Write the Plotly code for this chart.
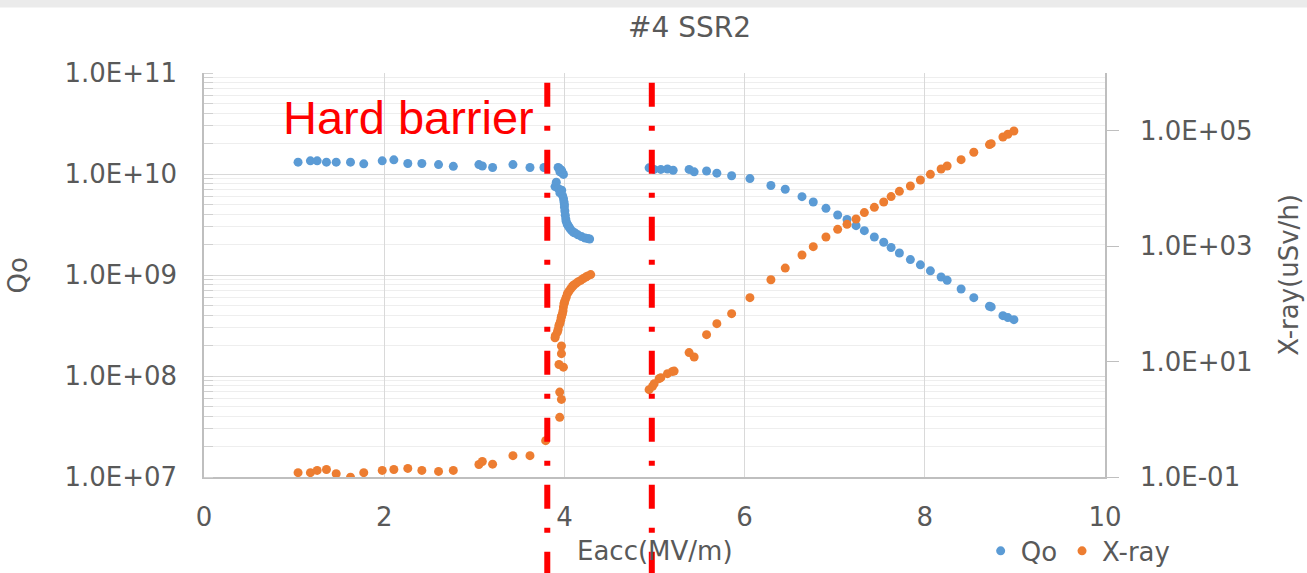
import plotly.graph_objects as go

# ---------------- data ----------------
qo_x = [1.044, 1.181, 1.256, 1.359, 1.467, 1.626, 1.773, 1.978, 2.107, 2.262,
        2.418, 2.603, 2.767, 3.051, 3.089, 3.203, 3.429, 3.618, 3.773,
        3.93, 3.94, 3.96, 3.97, 3.95, 3.98, 3.99, 3.896, 3.91, 3.93, 3.95, 3.97,
        3.98, 3.99, 3.995, 4.0, 4.0, 4.005, 4.01, 4.015, 4.02, 4.03, 4.04, 4.05,
        4.06, 4.08, 4.10, 4.12, 4.15, 4.19, 4.23, 4.26, 4.28,
        4.940, 4.996, 5.070, 5.144, 5.207, 5.384, 5.440, 5.578, 5.692, 5.856,
        6.059, 6.292, 6.451, 6.637, 6.762, 6.903, 7.033, 7.137, 7.237, 7.329,
        7.440, 7.544, 7.626, 7.718, 7.840, 7.951, 8.062, 8.181, 8.248, 8.403,
        8.544, 8.718, 8.737, 8.867, 8.922, 8.989]
qo_y = [1.31e10, 1.35e10, 1.35e10, 1.31e10, 1.31e10, 1.31e10, 1.26e10, 1.35e10, 1.38e10, 1.27e10,
        1.27e10, 1.24e10, 1.19e10, 1.24e10, 1.20e10, 1.16e10, 1.24e10, 1.16e10, 1.16e10,
        1.16e10, 1.14e10, 1.10e10, 1.08e10, 1.05e10, 1.02e10, 9.9e9, 7.5e9, 8.3e9, 7.2e9, 6.5e9, 6.9e9,
        6.1e9, 5.7e9, 5.3e9, 5.0e9, 4.7e9, 4.3e9, 3.9e9, 3.6e9, 3.4e9, 3.2e9, 3.1e9, 3.0e9,
        2.9e9, 2.75e9, 2.65e9, 2.6e9, 2.5e9, 2.4e9, 2.32e9, 2.3e9, 2.27e9,
        1.15e10, 1.11e10, 1.11e10, 1.12e10, 1.09e10, 1.11e10, 1.05e10, 1.07e10, 1.02e10, 9.6e9,
        9.0e9, 7.7e9, 7.06e9, 5.97e9, 5.28e9, 4.57e9, 3.93e9, 3.54e9, 3.08e9, 2.75e9,
        2.38e9, 2.11e9, 1.87e9, 1.65e9, 1.42e9, 1.26e9, 1.10e9, 9.55e8, 8.87e8, 7.27e8,
        5.97e8, 4.90e8, 4.83e8, 3.96e8, 3.79e8, 3.61e8]

xray_x = [1.044, 1.181, 1.256, 1.359, 1.467, 1.626, 1.773, 1.978, 2.107, 2.262,
          2.418, 2.603, 2.767, 3.051, 3.089, 3.203, 3.429, 3.618, 3.792,
          3.948, 3.967, 3.948, 3.989, 3.940, 3.967, 3.967, 3.896, 3.90, 3.922, 3.93,
          3.940, 3.95, 3.959, 3.965, 3.97, 3.978, 3.985, 3.989, 3.995, 4.0, 4.007,
          4.02, 4.033, 4.05, 4.070, 4.09, 4.10, 4.126, 4.15, 4.181, 4.21, 4.237,
          4.26, 4.292,
          4.940, 4.978, 4.996, 5.051, 5.070, 5.144, 5.200, 5.218, 5.384, 5.440,
          5.578, 5.692, 5.856, 6.059, 6.292, 6.451, 6.637, 6.762, 6.903, 7.033,
          7.137, 7.237, 7.329, 7.440, 7.544, 7.626, 7.718, 7.840, 7.951, 8.062,
          8.181, 8.248, 8.403, 8.544, 8.718, 8.737, 8.867, 8.922, 8.989]
xray_y = [0.119, 0.119, 0.130, 0.135, 0.114, 0.0995, 0.119, 0.130, 0.135, 0.141,
          0.130, 0.125, 0.130, 0.165, 0.186, 0.167, 0.234, 0.234, 0.426,
          1.08, 2.21, 2.96, 8.0, 8.9, 13.7, 18.6, 25.9, 28.0, 32.4, 36.0,
          42.4, 46.0, 51.8, 58.0, 62.0, 67.6, 76.0, 88.0, 100.0, 105.0, 115.0,
          130.0, 150.0, 165.0, 183.0, 200.0, 210.0, 224.0, 240.0, 255.0, 275.0, 291.0,
          305.0, 321.0,
          3.26, 3.72, 4.14, 5.06, 5.26, 6.17, 6.76, 6.84, 14.3, 12.0,
          29.3, 45.4, 67.6, 128, 262, 417, 701, 979, 1439, 1955,
          2388, 2951, 3811, 4699, 5808, 7211, 8913, 11010, 14000, 17540,
          21680, 24450, 31550, 42270, 57410, 59700, 77780, 86700, 98900]

x_ticks = [0, 2, 4, 6, 8, 10]
left_tickvals = [1e7, 1e8, 1e9, 1e10, 1e11]
left_ticktext = ["1.0E+07", "1.0E+08", "1.0E+09", "1.0E+10", "1.0E+11"]
right_tickvals = [1e-1, 1e1, 1e3, 1e5]
right_ticktext = ["1.0E-01", "1.0E+01", "1.0E+03", "1.0E+05"]
barrier_x = [3.81, 4.97]

title_text = "#4 SSR2"
x_title = "Eacc(MV/m)"
y_left_title = "Qo"
y_right_title = "X-ray(uSv/h)"
barrier_label = "Hard barrier"

# ---------------- styles ----------------
FONT = "DejaVu Sans"
TXT = "#595959"
BLUE = "#5B9BD5"
ORANGE = "#ED7D31"
FS = 26

fig = go.Figure()
fig.add_trace(go.Scatter(x=qo_x, y=qo_y, mode="markers", name="Qo",
                         marker=dict(color=BLUE, size=9, line=dict(width=0))))
fig.add_trace(go.Scatter(x=xray_x, y=xray_y, mode="markers", name="X-ray", yaxis="y2",
                         marker=dict(color=ORANGE, size=9, line=dict(width=0))))

fig.update_layout(
    width=1307, height=573,
    margin=dict(l=204, r=202, t=73, b=96, autoexpand=False),
    paper_bgcolor="white", plot_bgcolor="white",
    font=dict(family=FONT, color=TXT, size=FS),
    showlegend=True,
    legend=dict(orientation="h", x=0.862, y=-0.183, xanchor="left", yanchor="middle",
                font=dict(family=FONT, size=FS, color=TXT), bgcolor="rgba(0,0,0,0)",
                itemwidth=30, tracegroupgap=0),
    xaxis=dict(range=[0, 10], tickvals=x_ticks, ticktext=[str(v) for v in x_ticks],
               showgrid=True, gridcolor="#D9D9D9", gridwidth=1, zeroline=False,
               showline=True, linecolor="#BFBFBF", linewidth=1.5, ticks="",
               tickfont=dict(family=FONT, size=FS, color=TXT), ticklabelstandoff=16,
               automargin=False),
    yaxis=dict(type="log", range=[7, 11], tickvals=left_tickvals, ticktext=left_ticktext,
               showgrid=True, gridcolor="#D9D9D9", gridwidth=1, zeroline=False,
               showline=True, linecolor="#BFBFBF", linewidth=1.5, ticks="",
               minor=dict(dtick="D1", showgrid=True, gridcolor="#EEEEEE",
                          ticks="inside", ticklen=9, tickcolor="#D0D0D0"),
               tickfont=dict(family=FONT, size=FS, color=TXT), ticklabelstandoff=20,
               automargin=False),
    yaxis2=dict(type="log", range=[-1, 6], overlaying="y", side="right",
                tickvals=right_tickvals, ticktext=right_ticktext,
                showgrid=False, zeroline=False, showline=True, linecolor="#BFBFBF",
                linewidth=1.5, ticks="outside", ticklen=12, tickcolor="#BFBFBF",
                tickfont=dict(family=FONT, size=FS, color=TXT), ticklabelstandoff=16,
                automargin=False),
)

# top grey band
fig.add_shape(type="rect", xref="paper", yref="paper", x0=-0.3, x1=1.3, y0=1.162, y1=1.2,
              fillcolor="#EBEBEB", line=dict(width=0), layer="below")

# barrier lines
for bx in barrier_x:
    fig.add_shape(type="line", xref="x", yref="paper", x0=bx, x1=bx, y0=0.976, y1=-0.25,
                  line=dict(color="#FF0000", width=6, dash="24px,19px,5px,19px"),
                  layer="above")

annots = [
    dict(text=title_text, x=0.539, y=1.112, xref="paper", yref="paper",
         font=dict(family=FONT, size=28, color=TXT)),
    dict(text=x_title, x=0.5, y=-0.183, xref="paper", yref="paper",
         font=dict(family=FONT, size=FS, color=TXT)),
    dict(text=y_left_title, x=-0.206, y=0.5, xref="paper", yref="paper", textangle=-90,
         font=dict(family=FONT, size=FS, color=TXT)),
    dict(text=y_right_title, x=1.204, y=0.5, xref="paper", yref="paper", textangle=-90,
         font=dict(family=FONT, size=FS, color=TXT)),
    dict(text=barrier_label, x=2.27, y=0.89, xref="x", yref="paper",
         font=dict(family="Liberation Sans", size=47, color="#FF0000")),
]
for a in annots:
    fig.add_annotation(showarrow=False, xanchor="center", yanchor="middle", **a)

fig.write_html("out.html", config={"displayModeBar": False},
               post_script="document.body.style.margin='0px';")
